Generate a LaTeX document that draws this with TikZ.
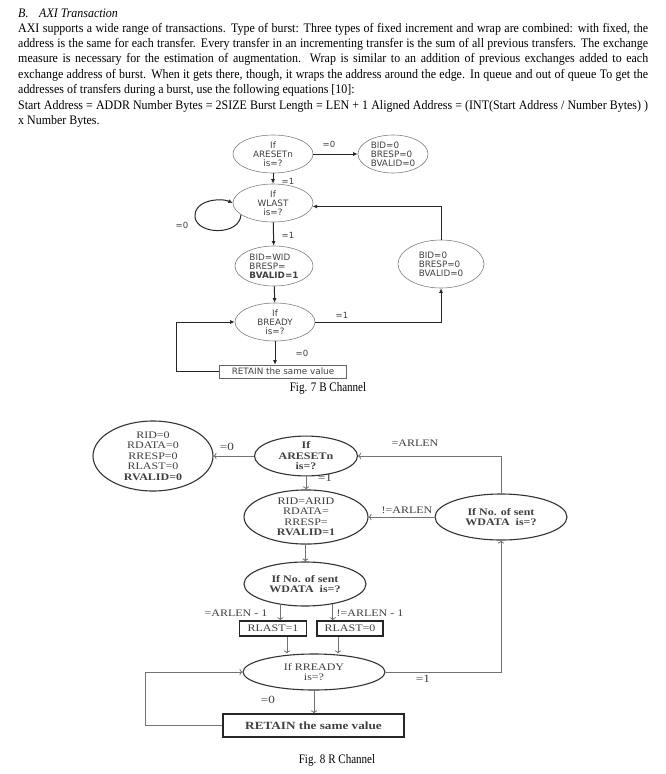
\documentclass[tikz,border=0pt]{standalone}
\usepackage{fontspec}
\setmainfont{Liberation Serif}
\newfontfamily\bodyfont[FakeStretch=0.92]{Liberation Serif}
\newfontfamily\capfont[FakeStretch=0.85]{Liberation Serif}
\newfontfamily\bchfont{DejaVu Sans}
\newfontfamily\rchfont[FakeStretch=1.2]{Liberation Serif}
\usetikzlibrary{shapes.geometric,arrows.meta}

\tikzset{
	bodyln/.style={anchor=base west, inner sep=0pt, font=\bodyfont\fontsize{13}{15.4}\selectfont},
	figcap/.style={inner sep=0pt, font=\capfont\fontsize{13}{15}\selectfont},
	% B channel
	bstate/.style={ellipse, draw=black!50, line width=0.6pt, inner sep=0pt, text=black!75, font=\bchfont\fontsize{8.8}{9}\selectfont, align=center},
	bbox/.style={rectangle, draw=black!60, line width=0.7pt, inner sep=0pt, text=black!75, font=\bchfont\fontsize{8.8}{9}\selectfont},
	blbl/.style={inner sep=0pt, text=black!75, font=\bchfont\fontsize{8.5}{9}\selectfont},
	barr/.style={draw=black!85, line width=1pt, -{Latex[length=4.5pt,width=4pt]}},
	% R channel
	rstate/.style={ellipse, draw=black!80, line width=1.1pt, inner sep=0pt, text=black!75, font=\rchfont\fontsize{10}{10.5}\selectfont, align=center},
	rbox/.style={rectangle, draw=black!85, line width=1.5pt, inner sep=0pt, text=black!75, font=\rchfont\fontsize{10}{10.5}\selectfont},
	rlbl/.style={inner sep=0pt, text=black!75, font=\rchfont\fontsize{10}{10.5}\selectfont},
	rarr/.style={draw=black!55, line width=0.8pt, -{To[length=3pt]}}
}

\begin{document}
\begin{tikzpicture}[x=1pt, y=-1pt]
	%%%%% START %%%%%
	\fill[white] (0,0) rectangle (666,774);
	\useasboundingbox (0,0) rectangle (666,774);
	
	\node[bodyln] (head) at (18,17) {\itshape\makebox[21pt][l]{B.}AXI Transaction};
	\node[bodyln] (par1) at (18,32) {\makebox[630pt][s]{AXI supports a wide range of transactions. Type of burst: Three types of fixed increment and wrap are combined: with fixed, the}};
	\node[bodyln] (par2) at (18,47.4) {\makebox[630pt][s]{address is the same for each transfer. Every transfer in an incrementing transfer is the sum of all previous transfers. The exchange}};
	\node[bodyln] (par3) at (18,62.8) {\makebox[630pt][s]{measure is necessary for the estimation of augmentation. Wrap is similar to an addition of previous exchanges added to each}};
	\node[bodyln] (par4) at (18,78.2) {\makebox[630pt][s]{exchange address of burst. When it gets there, though, it wraps the address around the edge. In queue and out of queue To get the}};
	\node[bodyln] (par5) at (18,93.6) {addresses of transfers during a burst, use the following equations [10]:};
	\node[bodyln] (par6) at (18,109) {\makebox[630pt][s]{Start Address = ADDR Number Bytes = 2SIZE Burst Length = LEN + 1 Aligned Address = (INT(Start Address / Number Bytes) )}};
	\node[bodyln] (par7) at (18,124.4) {x Number Bytes.};
	
	%% Fig. 7
	\node[bstate, minimum width=80, minimum height=38] (barst) at (273,154) {If\\ARESETn\\is=?};
	\node[bstate, minimum width=70, minimum height=38, align=left] (bzero) at (393,154) {BID=0\\BRESP=0\\BVALID=0};
	\node[bstate, minimum width=80, minimum height=38] (bwlast) at (273,203) {If\\WLAST\\is=?};
	\node[bstate, minimum width=78, minimum height=40, align=left] (bwid) at (274,266) {BID=WID\\BRESP=\\\textbf{BVALID=1}};
	\node[bstate, minimum width=80, minimum height=38] (bready) at (275,322) {If\\BREADY\\is=?};
	\node[bstate, minimum width=86, minimum height=48, align=left] (bdone) at (441,264) {BID=0\\BRESP=0\\BVALID=0};
	\node[bbox, minimum width=127, minimum height=13] (bkeep) at (283,371.5) {RETAIN the same value};
	
	\draw[barr] (barst) -- (bzero);
	\draw[barr] (barst) -- (bwlast);
	\draw[barr] (bwlast.200) .. controls (240,236) and (197,235) .. (195,217) .. controls (194,199) and (222,198) .. (bwlast.west);
	\draw[barr] (bwlast) -- (bwid);
	\draw[barr] (bwid) -- (bready);
	\draw[barr] (bready.east) -| (bdone.south);
	\draw[barr] (bdone.north) |- (bwlast.-5);
	\draw[barr] (bready) -- (bready |- bkeep.north);
	\draw[barr] (bkeep.west) -- ++(-43,0) |- (bready.west);
	
	\node[blbl] (bl1) at (329,144) {=0};
	\node[blbl] (bl2) at (288,181) {=1};
	\node[blbl] (bl3) at (182,225) {=0};
	\node[blbl] (bl4) at (288,235) {=1};
	\node[blbl] (bl5) at (342,315) {=1};
	\node[blbl] (bl6) at (302,353) {=0};
	
	\node[figcap] (cap7) at (328,388) {Fig. 7 B Channel};
	
	%% Fig. 8
	\node[rstate, minimum width=120, minimum height=70] (rzero) at (153,456) {RID=0\\RDATA=0\\RRESP=0\\RLAST=0\\\textbf{RVALID=0}};
	\node[rstate, minimum width=103, minimum height=32] (rarst) at (306,456) {\textbf{If}\\\textbf{ARESETn}\\\textbf{is=?}};
	\node[rstate, minimum width=124, minimum height=54] (rarid) at (306,517) {RID=ARID\\RDATA=\\RRESP=\\\textbf{RVALID=1}};
	\node[rstate, minimum width=132, minimum height=46] (rsent) at (501,517) {\textbf{If No. of sent}\\\textbf{WDATA\ \ is=?}};
	\node[rstate, minimum width=122, minimum height=44] (rcount) at (305,584) {\textbf{If No. of sent}\\\textbf{WDATA\ \ is=?}};
	\node[rbox, minimum width=67, minimum height=15] (rlast1) at (273,628.5) {RLAST=1};
	\node[rbox, minimum width=66, minimum height=15] (rlast0) at (350,628.5) {RLAST=0};
	\node[rstate, minimum width=142, minimum height=36] (rready) at (314,672) {If RREADY\\is=?};
	\node[rbox, line width=1.2pt, minimum width=181, minimum height=23, font=\rchfont\bfseries\fontsize{11}{12}\selectfont] (rkeep) at (313.5,725.5) {RETAIN the same value};
	
	\draw[rarr] (rarst) -- (rzero);
	\draw[rarr] (rarst) -- (rarid);
	\draw[rarr] (rsent.north) |- (rarst.east);
	\draw[rarr] (rsent) -- (rarid);
	\draw[rarr] (rarid) -- (rcount);
	\draw[rarr] (rcount.220) -- (rcount.220 |- rlast1.north);
	\draw[rarr] (rcount.-36) -- (rcount.-36 |- rlast0.north);
	\draw[rarr] ([xshift=14pt]rlast1.south) -- ([xshift=14pt]rlast1.south |- rready.north);
	\draw[rarr] ([xshift=-12pt]rlast0.south) -- ([xshift=-12pt]rlast0.south |- rready.north);
	\draw[rarr] (rready.east) -| (rsent.south);
	\draw[rarr] (rready) -- (rready |- rkeep.north);
	\draw[rarr] (rkeep.west) -- ++(-77,0) |- (rready.west);
	
	\node[rlbl, font=\rchfont\fontsize{11}{12}\selectfont] (rl1) at (227,447) {=0};
	\node[rlbl, font=\rchfont\fontsize{11}{12}\selectfont] (rl2) at (325,478) {=1};
	\node[rlbl] (rl3) at (415,443) {=ARLEN};
	\node[rlbl] (rl4) at (407,510) {!=ARLEN};
	\node[rlbl] (rl5) at (236,613) {=ARLEN - 1};
	\node[rlbl] (rl6) at (370,613) {!=ARLEN - 1};
	\node[rlbl, font=\rchfont\fontsize{11}{12}\selectfont] (rl7) at (423,679) {=1};
	\node[rlbl, font=\rchfont\fontsize{11}{12}\selectfont] (rl8) at (268,700) {=0};
	
	\node[figcap] (cap8) at (337,760) {Fig. 8 R Channel};
	%%%%% END %%%%%
\end{tikzpicture}
\end{document}
